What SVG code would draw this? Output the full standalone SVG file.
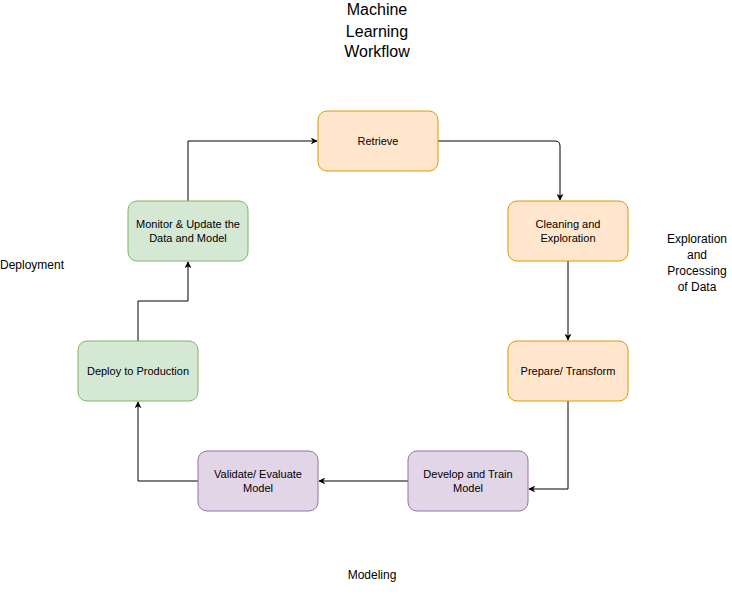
<svg xmlns="http://www.w3.org/2000/svg" width="732" height="598" viewBox="0 0 732 598">
<style>
text{font-family:"Liberation Sans",Arial,sans-serif;fill:#000}
.n{font-size:11px;text-anchor:middle}
.l{font-size:12px}
.o{fill:#ffe6cc;stroke:#d79b00}
.p{fill:#e1d5e7;stroke:#9673a6}
.g{fill:#d5e8d4;stroke:#82b366}
.c{fill:none;stroke:#000;stroke-width:1;marker-end:url(#a)}
</style>
<defs><marker id="a" viewBox="0 0 10 10" refX="9" refY="5" markerWidth="7" markerHeight="7" orient="auto" markerUnits="userSpaceOnUse"><path d="M0,0 L10,5 L0,10 L3,5 Z" fill="#000"/></marker></defs>
<rect width="732" height="598" fill="#fff"/>
<g id="title"><text x="377" y="15" font-size="16" text-anchor="middle">Machine</text><text x="377" y="37" font-size="16" text-anchor="middle">Learning</text><text x="377" y="57" font-size="16" text-anchor="middle">Workflow</text></g>
<g id="lbl-deploy"><text class="l" x="0" y="269">Deployment</text></g>
<g id="lbl-explore"><text class="l" x="697" y="243" text-anchor="middle">Exploration</text><text class="l" x="697" y="259" text-anchor="middle">and</text><text class="l" x="697" y="275" text-anchor="middle">Processing</text><text class="l" x="697" y="291" text-anchor="middle">of Data</text></g>
<g id="lbl-model"><text class="l" x="372" y="579" text-anchor="middle">Modeling</text></g>
<g id="connectors">
<path class="c" d="M438,141 H555 Q560,141 560,146 V200"/>
<path class="c" d="M568,261 V340"/>
<path class="c" d="M568,401 V489 H529"/>
<path class="c" d="M408,481 H319"/>
<path class="c" d="M198,481 H138 V402"/>
<path class="c" d="M138,341 V301 H188 V262"/>
<path class="c" d="M188,201 V141 H317"/>
</g>
<g id="retrieve"><rect class="o" x="318" y="111" width="120" height="60" rx="9"/><text class="n" x="378" y="145">Retrieve</text></g>
<g id="cleaning"><rect class="o" x="508" y="201" width="120" height="60" rx="9"/><text class="n" x="568" y="228">Cleaning and</text><text class="n" x="568" y="242">Exploration</text></g>
<g id="prepare"><rect class="o" x="508" y="341" width="120" height="60" rx="9"/><text class="n" x="568" y="375">Prepare/ Transform</text></g>
<g id="develop"><rect class="p" x="408" y="451" width="120" height="60" rx="9"/><text class="n" x="468" y="478">Develop and Train</text><text class="n" x="468" y="492">Model</text></g>
<g id="validate"><rect class="p" x="198" y="451" width="120" height="60" rx="9"/><text class="n" x="258" y="478">Validate/ Evaluate</text><text class="n" x="258" y="492">Model</text></g>
<g id="deploy"><rect class="g" x="78" y="341" width="120" height="60" rx="9"/><text class="n" x="138" y="375">Deploy to Production</text></g>
<g id="monitor"><rect class="g" x="128" y="201" width="120" height="60" rx="9"/><text class="n" x="188" y="228">Monitor &amp; Update the</text><text class="n" x="188" y="242">Data and Model</text></g>
</svg>
